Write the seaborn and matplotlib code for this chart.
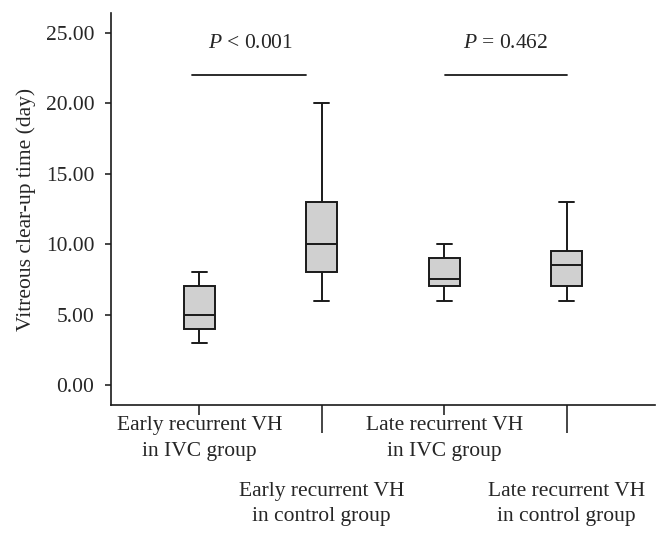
import pandas as pd
import matplotlib
matplotlib.use("Agg")
import matplotlib.pyplot as plt
import seaborn as sns

# five-number summaries (min, q1, median, q3, max)
groups = [
    "Early recurrent VH\nin IVC group",
    "Early recurrent VH\nin control group",
    "Late recurrent VH\nin IVC group",
    "Late recurrent VH\nin control group",
]
mins = [3, 6, 6, 6]
q1s = [4, 8, 7, 7]
medians = [5, 10, 7.5, 8.5]
q3s = [7, 13, 9, 9.5]
maxs = [8, 20, 10, 13]

y_ticks = [0, 5, 10, 15, 20, 25]
p_labels = ["$P$ < 0.001", "$P$ = 0.462"]


# -------------------------------------------------
# Build long-form data
# -------------------------------------------------
def build_data():

    rows = []
    for i, g in enumerate(groups):
        for v in [mins[i], q1s[i], medians[i], q3s[i], maxs[i]]:
            rows.append({"group": g, "days": v})

    return pd.DataFrame(rows)


def main():

    df = build_data()

    sns.set_style("ticks")
    plt.rcParams["font.family"] = ["Liberation Serif", "DejaVu Serif"]
    plt.rcParams["mathtext.fontset"] = "custom"
    plt.rcParams["mathtext.it"] = "Liberation Serif:italic"
    plt.rcParams["mathtext.rm"] = "Liberation Serif"

    fig = plt.figure(figsize=(6.69, 5.36), dpi=100)
    ax = fig.add_axes([0.1659, 0.2444, 0.8131, 0.7313])

    line_kw = dict(color="#1a1a1a", linewidth=1.3)

    sns.boxplot(
        data=df,
        x="group",
        y="days",
        order=groups,
        whis=(0, 100),
        width=0.25,
        color="#d0d0d0",
        saturation=1,
        linecolor="#1a1a1a",
        linewidth=1.4,
        ax=ax,
    )

    ax.set_xlim(-0.72, 3.72)
    ax.set_ylim(-1.42, 26.42)

    ax.set_yticks(y_ticks)
    ax.set_yticklabels([f"{t:.2f}" for t in y_ticks], fontsize=15.5)
    ax.set_ylabel("Vitreous clear-up time (day)", fontsize=15.5, labelpad=7)
    ax.set_xlabel("")

    # alternate short / long ticks so labels are staggered
    ax.set_xticks([0, 2])
    ax.set_xticklabels([groups[0], groups[2]], fontsize=15.5, linespacing=1.5)
    ax.set_xticks([1, 3], minor=True)
    ax.set_xticklabels([groups[1], groups[3]], minor=True, fontsize=15.5,
                       linespacing=1.45)
    ax.tick_params(axis="x", which="major", length=7, width=1.2, pad=1)
    ax.tick_params(axis="x", which="minor", length=20, width=1.2, pad=35.5)
    ax.tick_params(axis="y", length=4, width=1.2, pad=8)

    sns.despine(ax=ax)
    for s in ["left", "bottom"]:
        ax.spines[s].set_linewidth(1.2)
        ax.spines[s].set_color("#1a1a1a")

    # significance bars
    ax.plot([-0.06, 0.87], [22, 22], **line_kw)
    ax.plot([2.01, 3.0], [22, 22], **line_kw)
    ax.text(0.42, 23.6, p_labels[0], ha="center", va="bottom", fontsize=15.5)
    ax.text(2.5, 23.6, p_labels[1], ha="center", va="bottom", fontsize=15.5)

    fig.savefig("out.png", dpi=100)
    plt.close(fig)


if __name__ == "__main__":
    main()
